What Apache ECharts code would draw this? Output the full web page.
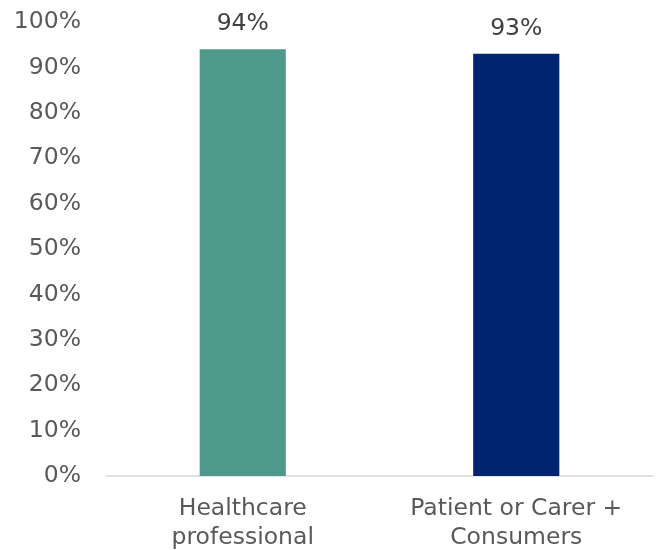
<!DOCTYPE html>
<html><head><meta charset="utf-8">
<script src="https://cdn.jsdelivr.net/npm/echarts@6/dist/echarts.min.js"></script>
<style>html,body{margin:0;padding:0;background:#fff}#c{width:658px;height:550px}</style>
</head><body><div id="c"></div>
<script>
const categories = ['Healthcare\nprofessional', 'Patient or Carer +\nConsumers'];
const values = [94, 93];
const colors = ['#4f998c', '#00246f'];
const font = "'DejaVu Sans', Verdana, sans-serif";
const chart = echarts.init(document.getElementById('c'));
chart.setOption({
  animation: false,
  grid: {left: 106, right: 5, top: 22, bottom: 74, outerBoundsMode: 'none', containLabel: false},
  xAxis: {
    type: 'category', data: categories,
    axisLine: {lineStyle: {color: '#d9d9d9', width: 1.5}},
    axisTick: {show: false},
    axisLabel: {interval: 0, hideOverlap: false, color: '#595959', fontSize: 23.5, fontFamily: font, lineHeight: 29, margin: 18}
  },
  yAxis: {
    type: 'value', min: 0, max: 100, interval: 10,
    splitLine: {show: false},
    axisLabel: {color: '#595959', fontSize: 23.5, fontFamily: font, formatter: '{value}%', margin: 25}
  },
  series: [{
    type: 'bar', barWidth: '31.5%',
    data: values.map((v, i) => ({value: v, itemStyle: {color: colors[i]}})),
    label: {show: true, position: 'top', distance: 13, color: '#404040', fontSize: 23.5, fontFamily: font, formatter: '{c}%'}
  }]
});
</script></body></html>
